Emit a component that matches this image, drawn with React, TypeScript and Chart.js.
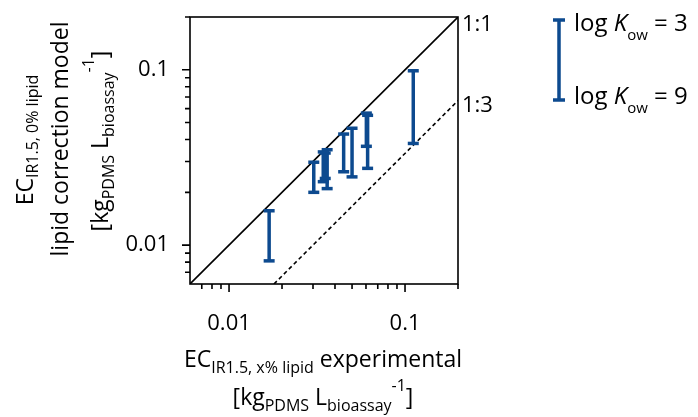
import React, { useEffect, useRef } from 'react';
import { Chart, registerables } from 'chart.js';

Chart.register(...registerables);

// ---- data ----
const xExperimental = [0.0169, 0.0303, 0.0343, 0.0352, 0.0361, 0.0448, 0.0500, 0.0603, 0.0613, 0.1114];
const yLogKow3 = [0.0157, 0.0297, 0.0340, 0.0335, 0.0350, 0.0430, 0.0464, 0.0566, 0.0550, 0.0987];
const yLogKow9 = [0.00813, 0.0200, 0.0230, 0.0240, 0.0210, 0.0262, 0.0245, 0.0366, 0.0274, 0.0380];

const oneToOneX = [0.006, 0.2];
const oneToOneY = [0.006, 0.2];
const oneToThreeX = [0.018, 0.2];
const oneToThreeY = [0.006, 0.0667];

const axisMin = 0.006;
const axisMax = 0.2;
const tickValues = [0.007, 0.008, 0.009, 0.01, 0.02, 0.03, 0.04, 0.05, 0.06, 0.07, 0.08, 0.09, 0.1, 0.2];
const majorTickValues = [0.01, 0.1];
const majorTickLabels = ['0.01', '0.1'];

const BLUE = '#0d4a8f';
const FONT = '"Open Sans", "Noto Sans", sans-serif';

type Seg = { t: string; size: number; dy?: number; italic?: boolean };

function segWidth(ctx: CanvasRenderingContext2D, s: Seg) {
  ctx.font = `${s.italic ? 'italic ' : ''}${s.size}px ${FONT}`;
  return ctx.measureText(s.t).width;
}

function drawRich(ctx: CanvasRenderingContext2D, segs: Seg[], x: number, y: number, align: 'left' | 'center') {
  const total = segs.reduce((a, s) => a + segWidth(ctx, s), 0);
  let cx = align === 'center' ? x - total / 2 : x;
  ctx.textBaseline = 'alphabetic';
  ctx.textAlign = 'left';
  for (const s of segs) {
    ctx.font = `${s.italic ? 'italic ' : ''}${s.size}px ${FONT}`;
    ctx.fillText(s.t, cx, y + (s.dy || 0));
    cx += ctx.measureText(s.t).width;
  }
}

const isMajor = (v: number) => majorTickValues.some((m) => Math.abs(m - v) < 1e-9);

const decorPlugin = {
  id: 'decor',
  afterDraw(chart: any) {
    const ctx: CanvasRenderingContext2D = chart.ctx;
    const { left, right, top, bottom } = chart.chartArea;
    const xs = chart.scales.x;
    const ys = chart.scales.y;
    ctx.save();
    ctx.fillStyle = '#000';
    ctx.strokeStyle = '#000';
    ctx.lineWidth = 1.6;
    ctx.strokeRect(left, top, right - left, bottom - top);
    ctx.beginPath();
    for (const v of tickValues) {
      const len = isMajor(v) ? 8 : 5;
      const px = xs.getPixelForValue(v);
      ctx.moveTo(px, bottom);
      ctx.lineTo(px, bottom + len);
      const py = ys.getPixelForValue(v);
      ctx.moveTo(left, py);
      ctx.lineTo(left - len, py);
    }
    ctx.stroke();

    // ratio labels
    drawRich(ctx, [{ t: '1:1', size: 22 }], right + 4, ys.getPixelForValue(oneToOneY[1]) + 14, 'left');
    drawRich(ctx, [{ t: '1:3', size: 22 }], right + 4, ys.getPixelForValue(oneToThreeY[1]) + 11, 'left');

    // x axis title
    const xc = (left + right) / 2 - 1;
    drawRich(ctx, [
      { t: 'EC', size: 23 },
      { t: 'IR1.5, x% lipid', size: 16, dy: 6 },
      { t: ' experimental', size: 23 },
    ], xc, 367, 'center');
    drawRich(ctx, [
      { t: '[kg', size: 23 },
      { t: 'PDMS', size: 16, dy: 6 },
      { t: ' L', size: 23 },
      { t: 'bioassay', size: 16, dy: 6 },
      { t: '-1', size: 16, dy: -14 },
      { t: ']', size: 23 },
    ], xc, 405, 'center');

    // y axis title (rotated)
    const lines: { segs: Seg[]; base: number; cy: number }[] = [
      { segs: [{ t: 'EC', size: 23 }, { t: 'IR1.5, 0% lipid', size: 16, dy: 5 }], base: 33, cy: 140 },
      { segs: [{ t: 'lipid correction model', size: 23 }], base: 68, cy: 139 },
      {
        segs: [
          { t: '[kg', size: 23 },
          { t: 'PDMS', size: 16, dy: 6 },
          { t: ' L', size: 23 },
          { t: 'bioassay', size: 16, dy: 6 },
          { t: '-1', size: 16, dy: -14 },
          { t: ']', size: 23 },
        ],
        base: 108,
        cy: 141,
      },
    ];
    for (const l of lines) {
      ctx.save();
      ctx.translate(l.base, l.cy);
      ctx.rotate(-Math.PI / 2);
      drawRich(ctx, l.segs, 0, 0, 'center');
      ctx.restore();
    }

    // legend
    const lx = 559;
    const lt = 20;
    const lb = 100;
    ctx.strokeStyle = BLUE;
    ctx.lineWidth = 3.5;
    ctx.beginPath();
    ctx.moveTo(lx, lt);
    ctx.lineTo(lx, lb);
    ctx.moveTo(lx - 6, lt);
    ctx.lineTo(lx + 6, lt);
    ctx.moveTo(lx - 6, lb);
    ctx.lineTo(lx + 6, lb);
    ctx.stroke();
    ctx.fillStyle = '#000';
    drawRich(ctx, [
      { t: 'log ', size: 24 },
      { t: 'K', size: 24, italic: true },
      { t: 'ow', size: 15, dy: 9 },
      { t: ' = 3', size: 24 },
    ], 574, 31, 'left');
    drawRich(ctx, [
      { t: 'log ', size: 24 },
      { t: 'K', size: 24, italic: true },
      { t: 'ow', size: 15, dy: 9 },
      { t: ' = 9', size: 24 },
    ], 574, 104, 'left');
    ctx.restore();
  },
};

function makeTicks(scale: any) {
  scale.ticks = tickValues.map((v) => ({ value: v, major: isMajor(v) }));
}

function tickLabel(value: any) {
  const v = Number(value);
  const i = majorTickValues.findIndex((m) => Math.abs(m - v) < 1e-9);
  return i >= 0 ? majorTickLabels[i] : '';
}

export default function App() {
  const ref = useRef<HTMLCanvasElement | null>(null);
  useEffect(() => {
    if (!ref.current) return;
    const errorBarSets = xExperimental.map((x, i) => ({
      data: [
        { x, y: yLogKow9[i] },
        { x, y: yLogKow3[i] },
      ],
      borderColor: BLUE,
      borderWidth: 3.5,
      pointStyle: 'line',
      pointRadius: 5.5,
      pointBorderWidth: 3.5,
      pointBorderColor: BLUE,
      pointBackgroundColor: BLUE,
      showLine: true,
      order: 0,
    }));
    const chart = new Chart(ref.current, {
      type: 'line',
      data: {
        datasets: [
          {
            data: oneToOneX.map((x, i) => ({ x, y: oneToOneY[i] })),
            borderColor: '#000',
            borderWidth: 1.6,
            pointRadius: 0,
            order: 1,
          },
          {
            data: oneToThreeX.map((x, i) => ({ x, y: oneToThreeY[i] })),
            borderColor: '#000',
            borderWidth: 1.6,
            borderDash: [4, 3],
            pointRadius: 0,
            order: 1,
          },
          ...errorBarSets,
        ] as any,
      },
      options: {
        animation: false,
        responsive: false,
        maintainAspectRatio: false,
        events: [],
        layout: { padding: { top: 17, right: 240, left: 0, bottom: 0 } },
        plugins: { legend: { display: false }, tooltip: { enabled: false } },
        scales: {
          x: {
            type: 'logarithmic',
            position: 'bottom',
            min: axisMin,
            max: axisMax,
            afterBuildTicks: makeTicks,
            afterFit: (s: any) => {
              s.height = 133;
              s.paddingLeft = 0;
              s.paddingRight = 0;
            },
            grid: { display: false },
            border: { display: false },
            ticks: {
              autoSkip: false,
              maxRotation: 0,
              padding: 19,
              color: '#000',
              font: { family: FONT, size: 22 },
              callback: tickLabel,
            },
          },
          y: {
            type: 'logarithmic',
            position: 'left',
            min: axisMin,
            max: axisMax,
            afterBuildTicks: makeTicks,
            afterFit: (s: any) => {
              s.width = 190;
              s.paddingTop = 0;
              s.paddingBottom = 0;
            },
            grid: { display: false },
            border: { display: false },
            ticks: {
              autoSkip: false,
              padding: 13,
              color: '#000',
              font: { family: FONT, size: 22 },
              callback: tickLabel,
            },
          },
        },
      } as any,
      plugins: [decorPlugin],
    });
    return () => chart.destroy();
  }, []);
  return (
    <div style={{ position: 'absolute', left: 0, top: 0, width: 698, height: 417, background: '#fff' }}>
      <canvas ref={ref} width={698} height={417} style={{ display: 'block' }} />
    </div>
  );
}
